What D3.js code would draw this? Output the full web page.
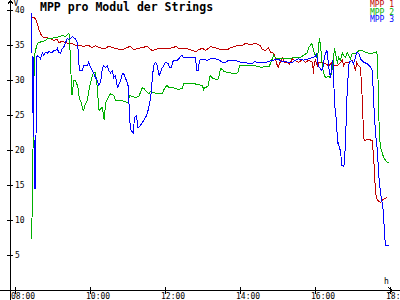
<!DOCTYPE html>
<html>
<head>
<meta charset="utf-8">
<script src="https://cdn.jsdelivr.net/npm/d3@7"></script>
<style>
  body { margin: 0; background: #fff; }
  svg { display: block; font-family: 'DejaVu Sans Mono', monospace; }
</style>
</head>
<body>
<svg width="400" height="300"></svg>
<script>
  const title = 'MPP pro Modul der Strings';
  const seriesNames = ['MPP 1', 'MPP 2', 'MPP 3'];
  const yTicks = [5, 10, 15, 20, 25, 30, 35, 40];
  const xTicks = ['08:00', '10:00', '12:00', '14:00', '16:00', '18:00'];

  const mpp1Times = ['08:26','08:32','08:35','08:37','08:40','08:43','08:45','08:51','08:56','09:01','09:07','09:09','09:15','09:20','09:25','09:31','09:36','09:41','09:49','09:57','10:03','10:08','10:13','10:19','10:24','10:29','10:35','10:40','10:48','10:51','10:56','11:04','11:09','11:17','11:23','11:31','11:38','11:44','11:49','12:05','12:13','12:16','12:21','12:32','12:43','12:48','12:53','12:59','13:04','13:09','13:12','13:17','13:23','13:28','13:39','13:44','13:52','13:57','14:03','14:08','14:16','14:24','14:32','14:35','14:40','14:45','14:48','14:53','14:56','14:59','15:01','15:02','15:06','15:07','15:10','15:14','15:17','15:18','15:22','15:23','15:26','15:33','15:39','15:44','15:49','15:55','15:57','15:58','16:00','16:03','16:05','16:11','16:16','16:21','16:27','16:29','16:35','16:40','16:43','16:45','16:48','16:53','16:59','17:01','17:04','17:06','17:09','17:12','17:15','17:17','17:18','17:25','17:31','17:34','17:36','17:39','17:44','17:47','17:50','17:55'];
  const mpp1Values = [39.0,38.9,38.1,37.4,36.7,36.3,36.1,36.1,36.0,35.7,35.9,35.4,35.6,35.4,35.3,35.3,35.0,35.0,34.9,35.0,34.7,35.0,34.7,34.6,34.6,34.9,34.7,34.6,34.4,34.4,34.6,34.9,34.4,34.6,34.7,34.9,34.3,34.4,34.6,34.6,34.7,34.9,34.6,34.6,34.3,34.1,34.4,34.6,34.3,34.6,34.9,34.7,34.6,34.4,34.4,34.7,34.9,35.0,35.0,35.3,35.1,35.3,35.0,34.4,34.3,34.7,34.0,33.9,33.1,32.1,31.9,32.4,32.9,33.4,32.6,32.6,32.4,32.3,32.9,33.1,32.9,32.6,33.0,32.6,32.9,32.6,31.0,32.6,32.9,32.1,32.6,32.6,32.4,32.1,32.6,32.1,32.1,32.6,32.9,32.1,32.6,32.6,32.9,32.4,31.4,32.6,32.1,31.9,27.1,21.9,21.4,21.6,21.4,17.6,14.0,12.9,12.6,12.9,13.1,13.3];

  const mpp2Times = ['08:26','08:27','08:29','08:30','08:32','08:35','08:37','08:43','08:48','08:51','08:56','09:01','09:07','09:09','09:15','09:20','09:25','09:26','09:28','09:30','09:31','09:33','09:36','09:39','09:41','09:42','09:46','09:47','09:49','09:52','09:55','09:57','10:00','10:03','10:05','10:08','10:11','10:13','10:14','10:18','10:19','10:21','10:22','10:24','10:27','10:32','10:37','10:40','10:45','10:51','10:56','11:01','11:02','11:07','11:12','11:17','11:20','11:23','11:25','11:28','11:33','11:36','11:39','11:49','11:55','11:57','12:00','12:03','12:05','12:16','12:21','12:27','12:29','12:43','12:53','12:59','13:01','13:02','13:06','13:09','13:10','13:12','13:14','13:17','13:23','13:25','13:28','13:31','13:33','13:41','13:52','13:55','13:57','13:58','14:24','14:29','14:32','14:46','14:50','14:53','14:56','14:59','15:20','15:25','15:36','15:41','15:47','15:49','15:54','15:55','15:58','16:02','16:03','16:05','16:06','16:08','16:11','16:13','16:16','16:21','16:24','16:27','16:29','16:30','16:34','16:35','16:37','16:40','16:43','16:45','16:48','16:51','16:53','16:56','16:59','17:04','17:07','17:09','17:15','17:20','17:25','17:31','17:34','17:38','17:39','17:41','17:42','17:44','17:47','17:49','17:52','17:55','17:57'];
  const mpp2Values = [7.4,14.7,25.7,33.3,34.3,35.3,35.4,35.6,35.7,36.0,36.0,36.1,36.1,36.3,36.4,36.3,36.7,36.6,32.9,27.9,28.1,30.0,30.0,29.3,28.6,27.4,26.7,26.0,25.7,26.7,27.1,28.3,29.7,30.7,31.1,31.1,29.0,26.1,25.7,26.1,26.1,25.0,24.3,26.7,27.4,28.1,27.9,27.1,27.1,27.1,27.0,26.7,27.9,27.7,27.6,27.7,28.3,29.0,28.9,28.6,28.1,28.4,28.3,28.1,28.1,28.6,29.1,29.3,29.0,28.9,28.7,28.9,29.6,29.6,29.4,29.3,28.7,28.9,29.1,29.3,30.4,30.7,30.4,30.3,30.1,30.4,31.7,31.6,31.3,31.1,31.0,31.1,31.4,32.1,32.1,32.0,31.9,32.0,32.9,33.6,33.3,33.1,33.1,33.3,33.3,33.6,34.0,34.7,35.3,35.0,33.9,33.3,33.1,34.7,36.1,35.0,31.9,31.0,30.4,30.6,30.4,31.7,32.9,34.6,33.1,32.4,33.3,32.9,33.9,33.6,33.3,34.0,33.6,33.1,33.9,33.9,34.0,34.3,34.3,34.0,33.9,33.9,34.0,34.1,33.3,27.1,22.4,20.4,19.6,19.0,18.6,18.3,18.3];

  const mpp3Times = ['08:26','08:27','08:29','08:30','08:32','08:34','08:35','08:40','08:43','08:45','08:48','08:51','08:53','08:59','09:01','09:04','09:07','09:09','09:12','09:15','09:17','09:20','09:23','09:25','09:28','09:31','09:33','09:36','09:39','09:41','09:42','09:47','09:49','09:55','09:57','10:00','10:03','10:05','10:08','10:11','10:13','10:16','10:19','10:21','10:24','10:27','10:29','10:32','10:35','10:37','10:40','10:43','10:45','10:48','10:51','10:53','10:56','10:59','11:01','11:02','11:04','11:07','11:09','11:10','11:14','11:15','11:17','11:20','11:23','11:25','11:28','11:31','11:33','11:36','11:38','11:39','11:42','11:44','11:47','11:49','11:50','11:54','11:57','12:00','12:05','12:06','12:10','12:11','12:14','12:19','12:21','12:26','12:29','12:48','12:50','12:53','12:54','13:01','13:07','13:12','13:20','13:25','13:31','13:36','13:41','13:52','13:57','14:00','14:08','14:13','14:19','14:22','14:27','14:40','14:45','14:51','15:01','15:07','15:12','15:17','15:23','15:28','15:33','15:41','15:49','15:55','16:00','16:02','16:03','16:06','16:10','16:13','16:14','16:18','16:19','16:21','16:24','16:26','16:27','16:29','16:30','16:34','16:35','16:37','16:38','16:40','16:42','16:45','16:46','16:48','16:50','16:53','16:54','16:58','17:01','17:04','17:06','17:09','17:12','17:17','17:23','17:28','17:31','17:33','17:36','17:39','17:41','17:44','17:47','17:49','17:50','17:52','17:57'];
  const mpp3Values = [39.6,25.4,33.3,14.6,14.6,33.3,33.6,33.1,33.9,33.6,34.0,33.9,34.1,34.0,34.3,34.3,34.6,34.0,33.9,34.6,34.7,35.4,36.0,35.9,36.0,36.3,36.1,36.0,35.4,33.6,31.4,31.4,32.1,32.1,32.6,31.9,31.4,31.1,30.4,30.0,29.3,29.7,31.7,32.1,31.9,32.1,31.4,31.1,31.4,30.4,30.7,29.0,29.3,30.0,31.0,31.0,30.3,29.7,28.9,25.3,23.1,22.6,22.4,24.7,25.0,23.3,23.3,23.6,24.0,24.3,24.7,25.3,26.1,27.4,29.0,30.7,32.4,32.6,32.1,31.0,30.7,31.7,32.1,32.6,32.4,31.9,31.9,32.6,32.9,32.9,33.1,33.6,33.3,33.3,31.4,31.4,32.9,33.0,32.9,33.1,33.1,33.0,32.6,32.6,32.9,32.9,32.7,32.6,32.6,32.4,32.4,32.7,32.6,32.6,32.7,32.9,33.0,32.7,32.7,32.6,32.6,32.9,33.1,32.9,33.1,33.3,33.4,33.9,32.6,31.9,31.4,32.1,33.3,34.3,34.1,31.9,30.4,31.9,32.9,31.9,27.1,23.9,21.0,21.1,20.4,20.0,17.9,17.7,18.1,21.0,27.1,31.9,32.6,32.9,32.4,33.3,34.0,33.9,33.1,32.6,32.4,31.9,31.4,27.1,22.4,20.0,16.7,13.9,12.4,11.0,8.6,6.4,6.4];

  const colors = ['#c00000', '#00b000', '#0000ff'];

  const svg = d3.select('svg');
  const parseTime = d3.timeParse('%H:%M');

  const series = [
    { name: seriesNames[0], times: mpp1Times, values: mpp1Values },
    { name: seriesNames[1], times: mpp2Times, values: mpp2Values },
    { name: seriesNames[2], times: mpp3Times, values: mpp3Values }
  ].map(s => ({
    name: s.name,
    points: s.times.map((t, i) => ({ t: parseTime(t), v: s.values[i] }))
  }));

  const xScale = d3.scaleTime()
    .domain([parseTime('08:00'), parseTime('18:00')])
    .range([15, 390]);

  const yScale = d3.scaleLinear()
    .domain([0, 40])
    .range([290, 10]);

  // axes lines with arrows
  const axisG = svg.append('g')
    .attr('stroke', '#000')
    .attr('fill', 'none')
    .attr('shape-rendering', 'crispEdges');
  axisG.append('path').attr('d', 'M10.5,300V0.5 M7.5,4.5L10.5,0.5L13.5,4.5');
  axisG.append('path').attr('d', 'M0,290.5H400 M388.5,287.5L392.5,290.5L388.5,293.5');

  const yAxis = d3.axisRight(yScale)
    .tickValues(yTicks)
    .tickSize(3)
    .tickPadding(2);

  const yAxisG = svg.append('g')
    .attr('transform', 'translate(10,0)')
    .call(yAxis);
  yAxisG.select('.domain').remove();
  yAxisG.selectAll('.tick line').attr('x1', -3).attr('shape-rendering', 'crispEdges');
  yAxisG.selectAll('.tick text')
    .attr('font-family', "'DejaVu Sans Mono', monospace")
    .attr('font-size', 8);

  const xAxis = d3.axisBottom(xScale)
    .tickValues(xTicks.map(parseTime))
    .tickFormat(d3.timeFormat('%H:%M'))
    .tickSize(4)
    .tickPadding(0);

  const xAxisG = svg.append('g')
    .attr('transform', 'translate(0,290)')
    .call(xAxis);
  xAxisG.select('.domain').remove();
  xAxisG.selectAll('.tick line').attr('y1', -3).attr('shape-rendering', 'crispEdges');
  xAxisG.selectAll('.tick text')
    .attr('text-anchor', 'start')
    .attr('x', -4.5)
    .attr('y', 3.2)
    .attr('font-family', "'DejaVu Sans Mono', monospace")
    .attr('font-size', 8);

  svg.append('text')
    .attr('x', 13.5).attr('y', 5.5)
    .attr('font-size', 8)
    .text('V');
  svg.append('text')
    .attr('x', 384).attr('y', 284)
    .attr('font-size', 8)
    .text('h');

  // lines
  const line = d3.line()
    .x(d => xScale(d.t))
    .y(d => yScale(d.v));

  svg.append('g')
    .attr('transform', 'translate(0.5,0.5)')
    .selectAll('path').data(series)
    .enter().append('path')
      .attr('d', d => line(d.points))
      .attr('fill', 'none')
      .attr('stroke', (d, i) => colors[i])
      .attr('stroke-width', 1)
      .attr('shape-rendering', 'crispEdges');

  // title and legend
  svg.append('text')
    .attr('x', 40).attr('y', 11)
    .attr('font-size', 11.5)
    .attr('font-weight', 'bold')
    .text(title);

  svg.append('g').selectAll('text').data(seriesNames)
    .enter().append('text')
      .attr('x', 394)
      .attr('y', (d, i) => 7 + i * 7.5)
      .attr('text-anchor', 'end')
      .attr('font-size', 8)
      .attr('fill', (d, i) => colors[i])
      .text(d => d);
</script>
</body>
</html>
